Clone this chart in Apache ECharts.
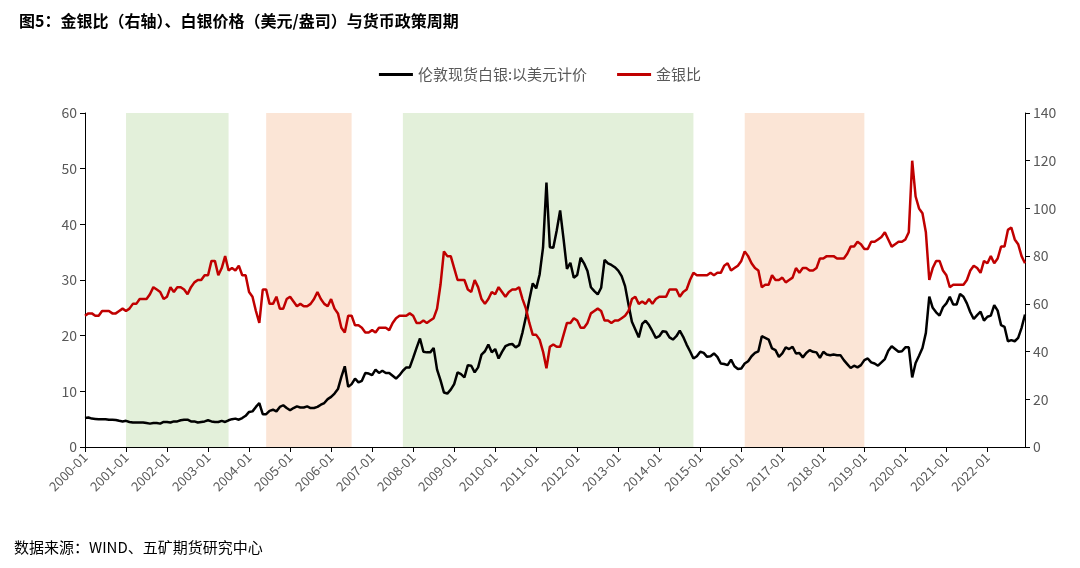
<!DOCTYPE html>
<html><head><meta charset="utf-8">
<script src="https://cdn.jsdelivr.net/npm/echarts@6/dist/echarts.min.js"></script>
<style>body{margin:0;background:#fff}#c{width:1080px;height:568px}</style>
</head><body><div id="c"></div>
<script>
const silver = [
5.2,5.3,5.1,5.05,5.0,5.0,5.0,4.9,4.9,4.85,4.7,4.6,
4.7,4.5,4.4,4.4,4.4,4.4,4.3,4.2,4.3,4.3,4.2,4.5,
4.5,4.4,4.6,4.6,4.8,4.9,4.9,4.6,4.6,4.4,4.5,4.6,
4.8,4.6,4.5,4.5,4.7,4.5,4.8,5.0,5.1,4.9,5.2,5.6,
6.3,6.4,7.2,7.9,5.9,5.9,6.5,6.7,6.4,7.2,7.5,7.0,
6.6,7.0,7.3,7.1,7.1,7.3,7.0,7.0,7.2,7.6,7.9,8.6,
9.0,9.6,10.4,12.6,14.5,10.8,11.3,12.3,11.6,11.9,13.3,13.2,
12.9,13.9,13.3,13.7,13.3,13.3,12.8,12.3,12.9,13.7,14.3,14.3,
16.0,17.8,19.5,17.1,17.0,17.0,17.8,13.9,12.0,9.8,9.6,10.3,
11.3,13.4,13.1,12.5,14.7,14.6,13.4,14.3,16.6,17.2,18.4,17.0,
17.6,15.9,17.1,18.1,18.4,18.5,17.9,18.3,20.6,23.4,26.5,29.4,
28.5,31.0,35.8,47.5,35.9,35.8,38.9,42.5,37.4,32.0,33.1,30.4,
30.9,34.0,33.0,31.6,28.7,28.0,27.4,28.6,33.6,33.0,32.7,32.3,
31.7,30.7,28.9,25.6,22.5,21.1,19.7,22.1,22.7,21.9,20.8,19.6,
19.9,20.8,20.7,19.7,19.3,19.9,20.9,19.8,18.4,17.2,15.9,16.3,
17.1,16.9,16.2,16.3,16.8,16.2,15.0,14.9,14.7,15.7,14.5,14.0,
14.1,15.0,15.4,16.3,16.9,17.2,19.9,19.6,19.3,17.7,17.4,16.2,
16.8,17.9,17.6,18.0,16.8,16.9,16.1,16.9,17.4,17.1,17.0,16.0,
17.1,16.6,16.5,16.6,16.5,16.5,15.6,14.9,14.2,14.6,14.3,14.7,
15.6,15.9,15.2,15.0,14.6,15.2,15.8,17.3,18.1,17.6,17.1,17.2,
17.9,17.9,12.5,15.1,16.4,17.8,20.5,27.0,25.0,24.2,23.6,25.1,
25.8,27.0,25.6,25.6,27.5,27.0,25.8,24.2,23.0,23.7,24.3,22.7,
23.4,23.6,25.5,24.5,21.9,21.6,19.0,19.2,19.0,19.6,21.4,23.8
];
const ratio = [
55,56,56,55,55,57,57,57,56,56,57,58,
57,58,60,60,62,62,62,64,67,66,65,62,
63,67,65,67,67,66,64,67,69,70,70,72,
72,78,78,72,75,80,74,75,74,76,72,72,
65,63,57,52,66,66,60,60,63,58,58,62,
63,61,59,60,59,59,60,62,65,62,60,59,
62,58,56,50,48,55,55,51,51,50,48,48,
49,48,50,50,50,49,52,54,55,55,55,56,
55,52,52,53,52,53,54,58,68,82,80,80,
75,70,70,70,66,65,70,67,62,60,62,65,
64,67,65,63,65,66,66,67,62,58,52,47,
47,45,40,33,42,43,42,42,47,52,52,54,
53,50,50,52,56,57,58,57,53,53,52,53,
53,54,55,57,62,63,60,61,60,62,60,62,
63,63,63,66,66,66,63,65,66,70,73,72,
72,72,72,73,72,73,73,76,77,74,75,76,
78,82,80,77,75,74,67,68,68,72,70,70,
71,69,70,71,75,73,75,75,74,74,75,79,
79,80,80,80,79,79,79,81,84,84,86,85,
83,83,86,86,87,88,90,87,84,85,86,86,
87,90,120,105,100,98,90,70,75,78,78,74,
72,67,68,68,68,68,70,74,76,75,73,78,
77,80,77,79,84,84,91,92,87,85,80,77
];
const months = [];
for (let y = 2000; y <= 2022; y++) for (let m = 1; m <= 12; m++) months.push(y + '-' + String(m).padStart(2, '0'));
months.length = silver.length;
const greenAreas = [['2001-01','2003-07'],['2007-10','2014-11']];
const orangeAreas = [['2004-06','2006-07'],['2016-02','2019-01']];
const areas = greenAreas.map(a => [{xAxis:a[0], itemStyle:{color:'#a9d18e', opacity:0.33}},{xAxis:a[1]}])
  .concat(orangeAreas.map(a => [{xAxis:a[0], itemStyle:{color:'#f4b183', opacity:0.33}},{xAxis:a[1]}]));
const chart = echarts.init(document.getElementById('c'));
const lab = {color:'#595959', fontSize:14, fontFamily:'Noto Sans CJK SC'};
chart.setOption({
  animation:false,
  title:{text:'图5：金银比（右轴）、白银价格（美元/盎司）与货币政策周期', left:14, top:8,
    textStyle:{fontSize:16, fontWeight:'bold', color:'#000', fontFamily:'Noto Sans CJK SC'}},
  graphic:[{type:'text', left:14, top:540, style:{text:'数据来源：WIND、五矿期货研究中心', fontSize:15, fill:'#000', fontFamily:'Noto Sans CJK SC'}}],
  legend:{top:62, left:'center', itemWidth:34, itemHeight:3, itemGap:30, icon:'rect',
    textStyle:{fontSize:15, color:'#595959', fontFamily:'Noto Sans CJK SC'},
    data:['伦敦现货白银:以美元计价','金银比']},
  grid:{left:85, right:55, top:113, bottom:121},
  xAxis:{type:'category', data:months, boundaryGap:false,
    axisLine:{lineStyle:{color:'#000'}}, axisTick:{show:true, interval:11, lineStyle:{color:'#000'}},
    axisLabel:{...lab, fontSize:13, rotate:45, interval:11}},
  yAxis:[
    {type:'value', min:0, max:60, interval:10, splitLine:{show:false},
     axisLine:{show:true, lineStyle:{color:'#000'}}, axisTick:{show:true}, axisLabel:lab},
    {type:'value', min:0, max:140, interval:20, splitLine:{show:false},
     axisLine:{show:true, lineStyle:{color:'#000'}}, axisTick:{show:true}, axisLabel:lab}
  ],
  series:[
    {name:'伦敦现货白银:以美元计价', type:'line', data:silver, yAxisIndex:0, symbol:'none',
     lineStyle:{color:'#000', width:2.5}, itemStyle:{color:'#000'}, z:2},
    {name:'金银比', type:'line', data:ratio, yAxisIndex:1, symbol:'none',
     lineStyle:{color:'#c00000', width:2.5}, itemStyle:{color:'#c00000'}, z:2},
    {name:'shade', type:'line', data:[], zlevel:1, silent:true,
     markArea:{silent:true, data:areas}}
  ]
});
</script></body></html>
